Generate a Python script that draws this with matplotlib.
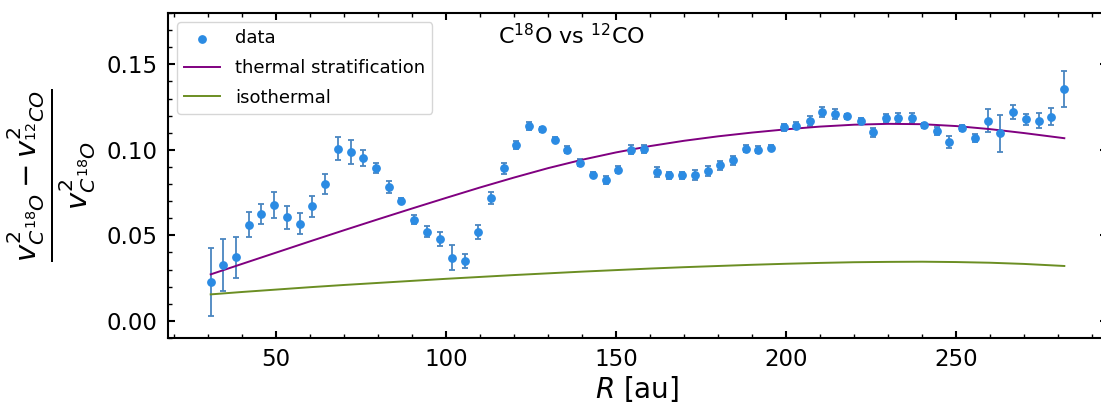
import matplotlib
matplotlib.use('Agg')
import matplotlib.pyplot as plt
from matplotlib.ticker import MultipleLocator

# radius [au] of the measured points
radius = [30.8, 34.5, 38.2, 42.0, 45.7, 49.4, 53.2, 57.0, 60.7, 64.4,
          68.2, 72.0, 75.7, 79.4, 83.1, 86.9, 90.6, 94.4, 98.1, 101.9,
          105.6, 109.4, 113.1, 116.9, 120.6, 124.4, 128.1, 131.9, 135.6, 139.3,
          143.1, 146.9, 150.6, 154.4, 158.1, 161.9, 165.6, 169.3, 173.1, 176.9,
          180.6, 184.3, 188.1, 191.8, 195.6, 199.3, 203.0, 206.9, 210.6, 214.3,
          218.0, 221.9, 225.6, 229.3, 233.0, 236.9, 240.6, 244.3, 248.0, 251.8,
          255.6, 259.3, 263.0, 266.8, 270.5, 274.3, 278.0, 281.8]

# (v_C18O^2 - v_12CO^2) / v_C18O^2
ratio = [0.0226, 0.0327, 0.0372, 0.0562, 0.0626, 0.0679, 0.0605, 0.0568, 0.0669, 0.0801,
         0.1006, 0.0986, 0.0951, 0.0893, 0.0782, 0.0702, 0.0591, 0.0521, 0.0479, 0.0370,
         0.0352, 0.0521, 0.0720, 0.0891, 0.1027, 0.1140, 0.1119, 0.1060, 0.1002, 0.0926,
         0.0854, 0.0823, 0.0885, 0.1002, 0.1004, 0.0870, 0.0852, 0.0852, 0.0854, 0.0876,
         0.0909, 0.0938, 0.1006, 0.1000, 0.1012, 0.1132, 0.1142, 0.1169, 0.1220, 0.1210,
         0.1197, 0.1169, 0.1103, 0.1187, 0.1187, 0.1187, 0.1144, 0.1109, 0.1047, 0.1128,
         0.1068, 0.1171, 0.1097, 0.1224, 0.1179, 0.1171, 0.1193, 0.1358]

ratio_err = [0.0198, 0.0154, 0.0121, 0.0073, 0.0058, 0.0077, 0.0066, 0.0062, 0.0063, 0.0057,
             0.0067, 0.0071, 0.0048, 0.0031, 0.0033, 0.0015, 0.0026, 0.0031, 0.0039, 0.0073,
             0.0041, 0.0040, 0.0035, 0.0030, 0.0023, 0.0025, 0.0012, 0.0015, 0.0020, 0.0020,
             0.0015, 0.0025, 0.0020, 0.0025, 0.0025, 0.0030, 0.0020, 0.0020, 0.0030, 0.0030,
             0.0025, 0.0025, 0.0020, 0.0020, 0.0015, 0.0020, 0.0020, 0.0028, 0.0030, 0.0030,
             0.0015, 0.0020, 0.0025, 0.0025, 0.0030, 0.0030, 0.0015, 0.0025, 0.0035, 0.0020,
             0.0025, 0.0065, 0.0108, 0.0041, 0.0031, 0.0042, 0.0050, 0.0105]

# model curves
model_r = [30.8, 40, 50, 60, 70, 80, 90, 100, 110, 120, 130, 140, 150, 160,
           170, 180, 190, 200, 210, 220, 230, 240, 250, 260, 270, 281.8]
thermal_strat = [0.0272, 0.0333, 0.0399, 0.0465, 0.0530, 0.0594, 0.0657, 0.0719,
                 0.0780, 0.0838, 0.0893, 0.0942, 0.0985, 0.1022, 0.1053, 0.1079,
                 0.1101, 0.1120, 0.1136, 0.1147, 0.1152, 0.1150, 0.1139, 0.1121,
                 0.1098, 0.1068]
isothermal = [0.0155, 0.0169, 0.0183, 0.0197, 0.0210, 0.0222, 0.0234, 0.0246,
              0.0257, 0.0268, 0.0278, 0.0288, 0.0297, 0.0306, 0.0314, 0.0321,
              0.0328, 0.0334, 0.0339, 0.0343, 0.0345, 0.0346, 0.0344, 0.0340,
              0.0333, 0.0321]

fig = plt.figure(figsize=(11.01, 4.05), dpi=100)
ax = fig.add_axes([168 / 1101, 67 / 405, 939 / 1101, 325 / 405])

ax.errorbar(radius, ratio, yerr=ratio_err, fmt='none', ecolor='#4a86c0',
            elinewidth=1.3, capsize=2, capthick=1.3, zorder=2)
ax.scatter(radius, ratio, s=28, color='#2b8be3', label='data', zorder=3)
ax.plot(model_r, thermal_strat, color='purple', lw=1.4, label='thermal stratification')
ax.plot(model_r, isothermal, color='olivedrab', lw=1.4, label='isothermal')

ax.set_ylim(-0.01, 0.18)
ax.margins(x=0.05)

ax.xaxis.set_major_locator(MultipleLocator(50))
ax.xaxis.set_minor_locator(MultipleLocator(10))
ax.yaxis.set_major_locator(MultipleLocator(0.05))
ax.yaxis.set_minor_locator(MultipleLocator(0.01))
ax.tick_params(which='both', direction='in', top=True, right=True)
ax.tick_params(which='major', length=5, width=1.5, labelsize=16.5, pad=7.5)
ax.tick_params(which='minor', length=3, width=1.0)
for sp in ax.spines.values():
    sp.set_linewidth(1.5)

ax.set_xlabel(r'$R$ [au]', fontsize=20, labelpad=2)
ax.set_ylabel(r'$\frac{v^2_{C^{18}O} - v^2_{^{12}CO}}{v^2_{C^{18}O}}$',
              fontsize=30, labelpad=6)

ax.text(0.43, 0.93, r'C$^{18}$O vs $^{12}$CO', transform=ax.transAxes,
        ha='center', va='center', fontsize=16)

ax.legend(loc='upper left', fontsize=13, labelspacing=0.65)

fig.savefig('out.png', dpi=100)
